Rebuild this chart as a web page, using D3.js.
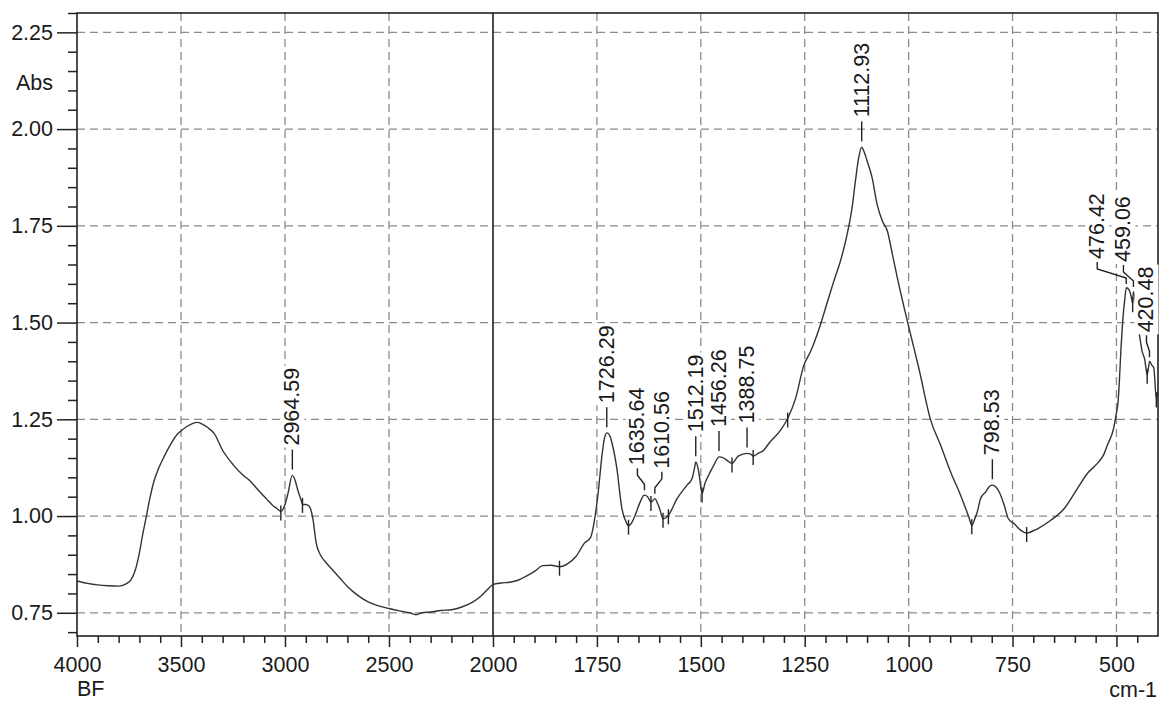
<!DOCTYPE html>
<html><head><meta charset="utf-8">
<script src="https://cdn.jsdelivr.net/npm/d3@7"></script>
<style>
body{margin:0;background:#fff}
svg{display:block}
text{font-family:"Liberation Sans",Arial,Helvetica,sans-serif;fill:#1a1a1a}
</style>
</head><body><svg id="c" width="1174" height="704"></svg>
<script>
// ---- data ----
const wavenumbers = [
 4000,3950,3900,3850,3800,3760,3740,3720,3700,3685,3670,3650,3630,3610,3580,3550,3520,3500,3470,3440,3420,3400,3370,3340,3300,
 3250,3200,3170,3130,3090,3060,3040,3020,3000,2985,2965,2950,2940,2925,2915,2900,2885,2875,2865,2850,2830,2800,2770,2740,2700,
 2650,2600,2550,2500,2450,2400,2370,2340,2300,2250,2200,2150,2100,2060,2030,2000,
 1980,1960,1940,1920,1900,1880,1860,1840,1820,1800,1780,1765,1755,1746,1738,1732,1726,1718,1714,1702,1690,1680,1674,1665,1658,
 1646,1636,1628,1620,1610,1605,1599,1591,1585,1578,1557,1533,1521,1515,1512,1507,1503,1497,1490,1485,1469,1456,1445,1437,1425,
 1410,1389,1380,1374,1360,1352,1333,1308,1291,1272,1252,1236,1212,1195,1180,1164,1148,1136,1128,1120,1113,1105,1100,1088,1076,
 1063,1051,1039,1027,1000,975,947,923,899,875,855,848,840,835,827,815,805,798,790,782,770,760,746,730,716,700,690,658,626,594,
 570,546,530,522,507,501,496,493,489,485,480,476,470,465,461,459,455,450,446,438,432,426,420,415,410,404,400
];
const absorbance = [
 0.832,0.826,0.822,0.820,0.819,0.826,0.836,0.860,0.905,0.950,0.990,1.045,1.090,1.120,1.155,1.185,1.210,1.220,1.232,1.240,1.242,1.238,1.228,1.213,1.170,
 1.133,1.105,1.092,1.068,1.045,1.028,1.020,1.012,1.030,1.060,1.105,1.090,1.070,1.045,1.030,1.030,1.026,1.015,0.990,0.930,0.900,0.878,0.860,0.842,0.818,
 0.795,0.778,0.768,0.761,0.755,0.750,0.745,0.750,0.752,0.756,0.758,0.765,0.777,0.792,0.808,0.823,
 0.827,0.829,0.834,0.845,0.857,0.872,0.873,0.869,0.877,0.896,0.930,0.945,0.995,1.070,1.155,1.200,1.215,1.205,1.190,1.123,1.020,0.985,0.975,0.985,1.002,
 1.036,1.054,1.050,1.036,1.045,1.035,1.019,0.993,0.995,1.002,1.045,1.080,1.097,1.125,1.140,1.125,1.100,1.058,1.085,1.097,1.131,1.153,1.150,1.144,1.136,
 1.155,1.162,1.160,1.155,1.163,1.167,1.192,1.222,1.252,1.304,1.390,1.425,1.495,1.555,1.607,1.659,1.728,1.797,1.866,1.927,1.953,1.935,1.918,1.875,1.806,
 1.762,1.736,1.676,1.615,1.490,1.380,1.248,1.183,1.114,1.054,0.997,0.976,0.995,1.010,1.045,1.062,1.077,1.080,1.075,1.062,1.028,0.993,0.980,0.963,0.956,0.962,0.967,0.989,1.019,1.071,
 1.110,1.136,1.160,1.183,1.226,1.261,1.296,1.348,1.434,1.503,1.560,1.590,1.585,1.570,1.550,1.580,1.560,1.500,1.477,1.425,1.405,1.365,1.400,1.390,1.382,1.304,1.320
];
const markerWavenumbers = [3020,2916,1840,1674,1620,1591,1578,1497,1425,1374,1291,848,716,461,426,404];
const peakWavenumbers = [2964.59,1726.29,1635.64,1610.56,1512.19,1456.26,1388.75,1112.93,798.53,476.42,459.06,420.48];
const peakLabels = ["2964.59","1726.29","1635.64","1610.56","1512.19","1456.26","1388.75","1112.93","798.53","476.42","459.06","420.48"];
const peakLabelShift = [0,0,-7,7,0,0,0,0,0,-29,-10,-3];
const xTicksLeft = [4000,3500,3000,2500,2000];
const xTicksRight = [1750,1500,1250,1000,750,500];
const yTicks = [0.75,1.00,1.25,1.50,1.75,2.00,2.25];

// ---- scales ----
const svg = d3.select("#c");
const xL = d3.scaleLinear().domain([4000,2000]).range([77,493]);
const xR = d3.scaleLinear().domain([2000,400]).range([493,1158]);
const x = w => (w >= 2000 ? xL(w) : xR(w));
const y = d3.scaleLinear().domain([0.69,2.30]).range([636,13]);
const FS = 21.5;

// grid
const grid = svg.append("g").attr("stroke","#8c8c8c").attr("stroke-width",1.3).attr("stroke-dasharray","8,5").attr("fill","none");
grid.selectAll("line.h").data(yTicks).join("line").attr("class","h")
  .attr("x1",77).attr("x2",1158).attr("y1",d=>y(d)).attr("y2",d=>y(d));
grid.selectAll("line.v").data(xTicksLeft.slice(1,-1).concat(xTicksRight)).join("line").attr("class","v")
  .attr("x1",d=>x(d)).attr("x2",d=>x(d)).attr("y1",13).attr("y2",636);

// axes
function styleAxis(g){ g.select(".domain").remove(); g.selectAll("line").attr("stroke","#222").attr("stroke-width",1.5);
  g.selectAll("text").style("font-size",FS+"px").attr("fill","#1a1a1a"); }
svg.append("g").attr("transform","translate(0,636)")
  .call(d3.axisBottom(xL).tickValues(xTicksLeft).tickSize(11).tickPadding(10).tickFormat(d3.format("d"))).call(styleAxis);
svg.append("g").attr("transform","translate(0,636)")
  .call(d3.axisBottom(xR).tickValues(xTicksRight).tickSize(11).tickPadding(10).tickFormat(d3.format("d"))).call(styleAxis);
svg.append("g").attr("transform","translate(0,636)")
  .call(d3.axisBottom(xL).tickValues(d3.range(3900,2000,-100).filter(v=>v%500)).tickSize(7).tickFormat("")).call(styleAxis);
svg.append("g").attr("transform","translate(0,636)")
  .call(d3.axisBottom(xR).tickValues(d3.range(1950,400,-50).filter(v=>v%250)).tickSize(7).tickFormat("")).call(styleAxis);
svg.append("g").attr("transform","translate(77,0)")
  .call(d3.axisLeft(y).tickValues(yTicks).tickSize(20).tickPadding(4).tickFormat(d3.format(".2f"))).call(styleAxis);
svg.append("g").attr("transform","translate(77,0)")
  .call(d3.axisLeft(y).tickValues(d3.range(14,47).map(i=>i*0.05).filter(v=>Math.abs(v*4-Math.round(v*4))>1e-6)).tickSize(9).tickFormat("")).call(styleAxis);

// frame
svg.append("rect").attr("x",77).attr("y",y(2.30)).attr("width",1158-77).attr("height",636-y(2.30))
  .attr("fill","none").attr("stroke","#222").attr("stroke-width",1.6);
svg.append("line").attr("x1",x(2000)).attr("x2",x(2000)).attr("y1",y(2.30)).attr("y2",636)
  .attr("stroke","#111").attr("stroke-width",1.5);

// spectrum
const pts = wavenumbers.map((w,i)=>[w,absorbance[i]]);
svg.append("path").datum(pts).attr("fill","none").attr("stroke","#333").attr("stroke-width",1.4)
  .attr("d",d3.line().x(d=>x(d[0])).y(d=>y(d[1])).curve(d3.curveMonotoneX));

function absAt(w){
  for(let i=0;i<wavenumbers.length-1;i++){
    const a=wavenumbers[i], b=wavenumbers[i+1];
    if(w<=a && w>=b){ const t=(a-w)/(a-b); return absorbance[i]+t*(absorbance[i+1]-absorbance[i]); }
  }
  return absorbance[absorbance.length-1];
}

// valley markers
svg.append("g").selectAll("line").data(markerWavenumbers).join("line")
  .attr("x1",d=>x(d)).attr("x2",d=>x(d)).attr("y1",d=>y(absAt(d))-6).attr("y2",d=>y(absAt(d))+9)
  .attr("stroke","#222").attr("stroke-width",1.4);

// peak labels
const lab = svg.append("g");
peakWavenumbers.forEach((w,i)=>{
  const xp=x(w), yp=y(absAt(w)), dx=peakLabelShift[i], xt=xp+dx;
  const g = lab.append("g");
  const tg = g.append("g").attr("transform",`translate(${xt},${yp-30}) rotate(-90)`);
  const bg = tg.append("rect").attr("fill","#fff");
  const t = tg.append("text").attr("x",0).attr("y",0).attr("dominant-baseline","central")
    .style("font-size",FS+"px").text(peakLabels[i]);
  const bb = t.node().getBBox();
  bg.attr("x",bb.x-2).attr("y",bb.y).attr("width",bb.width+4).attr("height",bb.height);
  const path = dx===0 ? [[xp,yp-6],[xp,yp-26]] : [[xp,yp-5],[xp,yp-11],[xt,yp-20],[xt,yp-27]];
  g.append("path").attr("d",d3.line()(path)).attr("fill","none").attr("stroke","#222").attr("stroke-width",1.4);
});

// axis titles
svg.append("text").attr("x",53).attr("y",90).attr("text-anchor","end").style("font-size",FS+"px").text("Abs");
svg.append("text").attr("x",77).attr("y",696).style("font-size",FS+"px").text("BF");
svg.append("text").attr("x",1157).attr("y",697).attr("text-anchor","end").style("font-size",FS+"px").text("cm-1");
</script>
</body></html>
